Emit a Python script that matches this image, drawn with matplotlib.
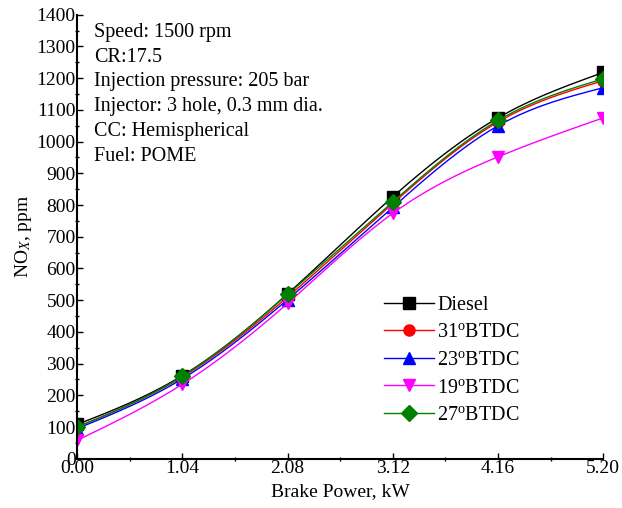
import numpy as np
import matplotlib.pyplot as plt
from matplotlib.ticker import MultipleLocator, FixedLocator

plt.rcParams["font.family"] = ["Liberation Serif", "DejaVu Serif"]
plt.rcParams["mathtext.fontset"] = "custom"
plt.rcParams["mathtext.rm"] = "Liberation Serif"
plt.rcParams["mathtext.it"] = "Liberation Serif:italic"

power = [0.00, 1.04, 2.08, 3.12, 4.16, 5.20]
diesel = [108, 262, 520, 826, 1075, 1218]
btdc31 = [100, 258, 510, 805, 1062, 1192]
btdc23 = [95, 252, 502, 793, 1050, 1170]
btdc19 = [58, 235, 490, 774, 952, 1075]
btdc27 = [100, 260, 518, 810, 1067, 1198]

series = [
    ("Diesel", diesel, "black", "s"),
    ("31$^{\\rm o}$BTDC", btdc31, "red", "o"),
    ("23$^{\\rm o}$BTDC", btdc23, "blue", "^"),
    ("19$^{\\rm o}$BTDC", btdc19, "magenta", "v"),
    ("27$^{\\rm o}$BTDC", btdc27, "green", "D"),
]


def spline(x, y, n=200):
    # natural cubic spline for the smooth connecting line
    x = np.asarray(x, float)
    y = np.asarray(y, float)
    h = np.diff(x)
    m = len(x)
    A = np.zeros((m, m))
    r = np.zeros(m)
    A[0, 0] = A[-1, -1] = 1
    for i in range(1, m - 1):
        A[i, i - 1] = h[i - 1]
        A[i, i] = 2 * (h[i - 1] + h[i])
        A[i, i + 1] = h[i]
        r[i] = 6 * ((y[i + 1] - y[i]) / h[i] - (y[i] - y[i - 1]) / h[i - 1])
    M = np.linalg.solve(A, r)
    xs = np.linspace(x[0], x[-1], n)
    idx = np.clip(np.searchsorted(x, xs) - 1, 0, m - 2)
    x0, x1 = x[idx], x[idx + 1]
    hh = x1 - x0
    a = (x1 - xs) / hh
    b = (xs - x0) / hh
    ys = a * y[idx] + b * y[idx + 1] + ((a ** 3 - a) * M[idx] + (b ** 3 - b) * M[idx + 1]) * hh ** 2 / 6
    return xs, ys


fig = plt.figure(figsize=(6.22, 5.08), dpi=100)
ax = fig.add_axes([0.124, 0.097, 0.846, 0.874])

for label, vals, color, marker in series:
    xs, ys = spline(power, vals)
    ax.plot(xs, ys, color=color, lw=1.0)
    ax.plot(power, vals, linestyle="none", marker=marker, color=color, ms=8)
    ax.plot([], [], color=color, lw=1.0, marker=marker, ms=8, label=label)

ax.set_xlim(0, 5.20)
ax.set_ylim(0, 1400)
ax.xaxis.set_major_locator(FixedLocator(power))
ax.set_xticklabels(["%.2f" % p for p in power])
ax.xaxis.set_minor_locator(FixedLocator([0.52, 1.56, 2.60, 3.64, 4.68]))
ax.yaxis.set_major_locator(MultipleLocator(100))
ax.yaxis.set_minor_locator(MultipleLocator(50))
ax.tick_params(which="major", direction="in", length=4, width=1, labelsize=14, pad=1)
ax.tick_params(which="minor", direction="inout", length=3, width=1)
for s in ["top", "right"]:
    ax.spines[s].set_visible(False)
for s in ["left", "bottom"]:
    ax.spines[s].set_linewidth(1.5)

ax.set_xlabel("Brake Power, kW", fontsize=14, labelpad=4)
ax.set_ylabel("NO$_{\\mathit{X}}$, ppm", fontsize=14, labelpad=2)

info = ("Speed: 1500 rpm\nCR:17.5\nInjection pressure: 205 bar\n"
        "Injector: 3 hole, 0.3 mm dia.\nCC: Hemispherical\nFuel: POME")
ax.text(0.033, 0.982, info, transform=ax.transAxes, fontsize=14.5,
        va="top", ha="left", linespacing=1.42)

ax.legend(loc="lower right", bbox_to_anchor=(0.875, 0.035), frameon=False,
          fontsize=14.5, handlelength=2.5, handletextpad=0.15, labelspacing=0.42)

fig.savefig("out.png", dpi=100)
